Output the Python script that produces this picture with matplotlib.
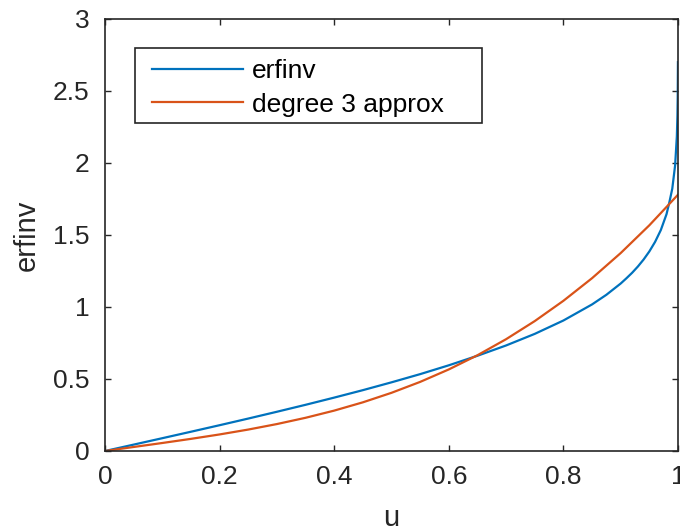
#!/usr/bin/env python3
import matplotlib

matplotlib.use("Agg")
import matplotlib.pyplot as plt
from matplotlib.patches import Rectangle

plt.rcParams["font.family"] = ["Liberation Sans", "DejaVu Sans"]

BLUE = "#0072BD"
ORANGE = "#D95319"
AXIS_COLOR = "#262626"

# erfinv curve
U_ERF = [0, 0.05, 0.1, 0.15, 0.2, 0.25, 0.3, 0.35, 0.4, 0.45, 0.5, 0.55, 0.6,
         0.65, 0.7, 0.75, 0.8, 0.85, 0.875, 0.9, 0.91, 0.92, 0.93, 0.94, 0.95,
         0.96, 0.97, 0.98, 0.985, 0.99, 0.995, 0.998, 0.999, 0.9995, 0.9999]
ERFINV = [0, 0.0443, 0.0889, 0.1338, 0.1791, 0.2253, 0.2725, 0.3208, 0.3708,
          0.4225, 0.4769, 0.5338, 0.5951, 0.6614, 0.7329, 0.8134, 0.9062,
          1.0179, 1.0848, 1.1631, 1.1995, 1.2379, 1.2812, 1.3299, 1.3859,
          1.4522, 1.5341, 1.6450, 1.7286, 1.8214, 1.9849, 2.1851, 2.3268,
          2.4589, 2.70]

# degree 3 approximation
U_APPROX = [0, 0.05, 0.1, 0.15, 0.2, 0.25, 0.3, 0.35, 0.4, 0.45, 0.5, 0.55,
            0.6, 0.65, 0.7, 0.75, 0.8, 0.85, 0.9, 0.95, 1.0]
APPROX = [0, 0.0279, 0.0556, 0.0843, 0.1150, 0.1489, 0.1871, 0.2306, 0.2805,
          0.3380, 0.4041, 0.4799, 0.5665, 0.6650, 0.7765, 0.9022, 1.0430,
          1.2001, 1.3746, 1.5675, 1.78]

X_TICKS = [0, 0.2, 0.4, 0.6, 0.8, 1]
X_TICK_LABELS = ["0", "0.2", "0.4", "0.6", "0.8", "1"]
Y_TICKS = [0, 0.5, 1, 1.5, 2, 2.5, 3]
Y_TICK_LABELS = ["0", "0.5", "1", "1.5", "2", "2.5", "3"]


def main() -> None:
    fig = plt.figure(figsize=(6.8, 5.31), dpi=100)
    ax = fig.add_axes((105 / 680, 80 / 531, 573 / 680, 432 / 531))

    ax.plot(U_ERF, ERFINV, color=BLUE, linewidth=1.6, label="erfinv")
    ax.plot(U_APPROX, APPROX, color=ORANGE, linewidth=1.6, label="degree 3 approx")

    ax.set_xlim(0, 1)
    ax.set_ylim(0, 3)
    ax.set_xticks(X_TICKS)
    ax.set_xticklabels(X_TICK_LABELS)
    ax.set_yticks(Y_TICKS)
    ax.set_yticklabels(Y_TICK_LABELS)
    ax.tick_params(direction="in", length=4.3, width=1.0, colors=AXIS_COLOR,
                   labelsize=19, top=True, right=True)
    ax.tick_params(axis="x", pad=10)
    ax.tick_params(axis="y", pad=11)
    for spine in ax.spines.values():
        spine.set_color(AXIS_COLOR)
        spine.set_linewidth(1.2)

    ax.set_xlabel("u", fontsize=21, color=AXIS_COLOR, labelpad=11)
    ax.set_ylabel("erfinv", fontsize=21, color=AXIS_COLOR, labelpad=9)

    # MATLAB-style legend box: wide frame, entries left aligned
    ax.add_patch(Rectangle((30 / 573, 0.7586), 347 / 573, 0.175, transform=ax.transAxes,
                           facecolor="white", edgecolor=AXIS_COLOR, linewidth=1.2, zorder=4))
    leg = ax.legend(loc="upper left", bbox_to_anchor=(47 / 573, 0.9074), fontsize=19,
                    frameon=False, handlelength=3.45, handletextpad=0.34,
                    labelspacing=0.36, borderpad=0, borderaxespad=0)
    leg.set_zorder(5)

    fig.savefig("out.png", dpi=100)
    plt.close(fig)


if __name__ == "__main__":
    main()
